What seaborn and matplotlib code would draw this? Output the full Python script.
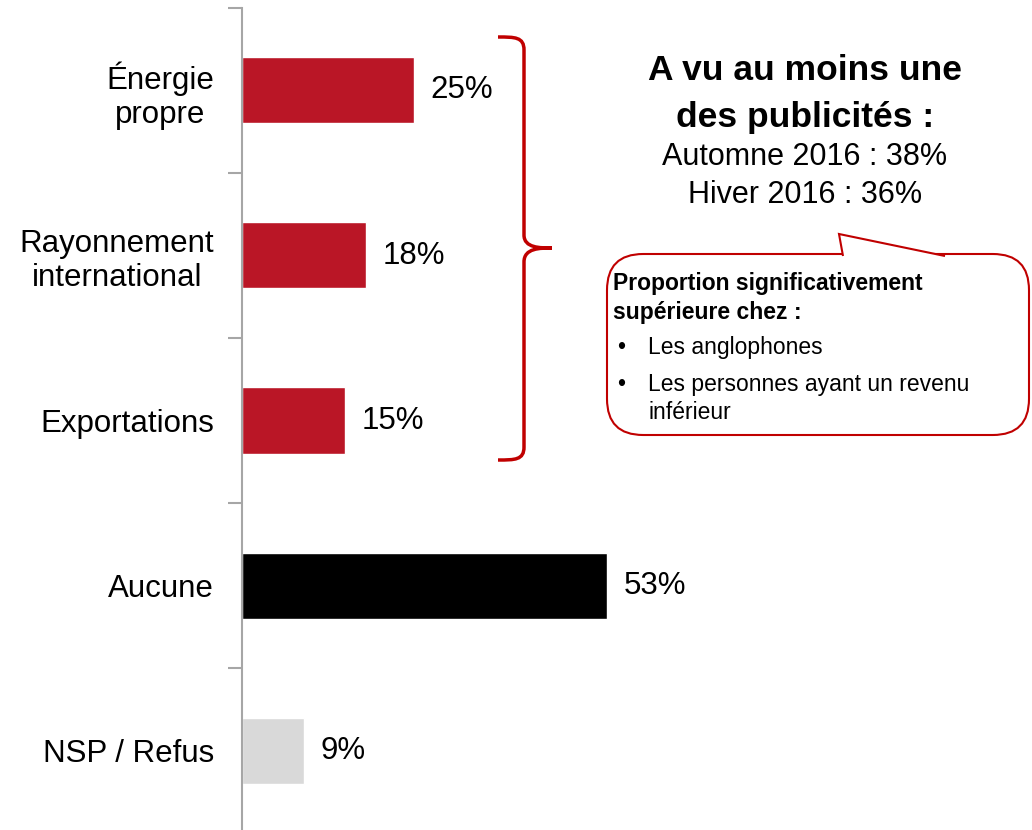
import numpy as np
import pandas as pd
import matplotlib
matplotlib.use("Agg")
import matplotlib.pyplot as plt
import seaborn as sns
from matplotlib.patches import FancyBboxPatch, Polygon, PathPatch
from matplotlib.path import Path

# Donnees du graphique
categories = ["Énergie\npropre", "Rayonnement\ninternational", "Exportations",
              "Aucune", "NSP / Refus"]
valeurs = [25, 18, 15, 53, 9]
couleurs = ["#BA1626", "#BA1626", "#BA1626", "#000000", "#D9D9D9"]

titre = ["A vu au moins une", "des publicités :"]
periodes = ["Automne 2016 : 38%", "Hiver 2016 : 36%"]
encadre_titre = "Proportion significativement\nsupérieure chez :"
encadre_points = ["Les anglophones", "Les personnes ayant un revenu\ninférieur"]

df = pd.DataFrame({"categorie": categories, "valeur": valeurs})

sns.set_style("white")
plt.rcParams["font.family"] = ["Liberation Sans", "DejaVu Sans"]
plt.rcParams["text.color"] = "black"
plt.rcParams["ytick.labelcolor"] = "black"

W, H = 1032, 830
fig = plt.figure(figsize=(W / 100, H / 100), dpi=100)
# axe : spine a x=242 px, categories de y=8 a 833 px
ax = fig.add_axes([242 / W, (H - 833) / H, 1 - 242 / W, 825 / H])

sns.barplot(data=df, x="valeur", y="categorie", hue="categorie",
            palette=couleurs, width=0.4, orient="h", legend=False,
            saturation=1, ax=ax)

ax.set_xlim(0, (W - 242) / 6.89)
ax.set_ylim(4.5, -0.5)
ax.set_xlabel("")
ax.set_ylabel("")
ax.set_xticks([])

for s in ["top", "right", "bottom"]:
    ax.spines[s].set_visible(False)
ax.spines["left"].set_color("#A6A6A6")
ax.spines["left"].set_linewidth(1.5)

# graduations aux limites des categories
ax.set_yticks(np.arange(len(categories)))
ax.set_yticks(np.arange(len(categories) + 1) - 0.5, minor=True)
ax.tick_params(axis="y", which="major", length=0, pad=20, labelsize=22.5,
               labelcolor="black")
ax.tick_params(axis="y", which="minor", length=10, width=1.5,
               color="#A6A6A6", direction="out", left=True)
for lab in ax.get_yticklabels():
    lab.set_multialignment("center")
    lab.set_linespacing(1.17)

for i, v in enumerate(valeurs):
    ax.text(v + 2.4, i, f"{v}%", va="center", ha="left", fontsize=22.5)

def fx(x):
    return x / W

def fy(y):
    return 1 - y / H

# accolade rouge
rouge = "#C00000"
pts = [(498, 37), (515, 37), (524, 37), (524, 50),
       (524, 235),
       (524, 248), (540, 248), (552, 248),
       (540, 248), (524, 248), (524, 262),
       (524, 447),
       (524, 460), (515, 460), (498, 460)]
codes = [Path.MOVETO, Path.CURVE4, Path.CURVE4, Path.CURVE4,
         Path.LINETO,
         Path.CURVE4, Path.CURVE4, Path.CURVE4,
         Path.CURVE4, Path.CURVE4, Path.CURVE4,
         Path.LINETO,
         Path.CURVE4, Path.CURVE4, Path.CURVE4]
brace = Path([(fx(x), fy(y)) for x, y in pts], codes)
fig.add_artist(PathPatch(brace, transform=fig.transFigure, fill=False,
                         edgecolor=rouge, linewidth=2.5))

# texte de droite
fig.text(fx(805), fy(70), titre[0], ha="center", va="center",
         fontsize=25.5, fontweight="bold")
fig.text(fx(805), fy(117), titre[1], ha="center", va="center",
         fontsize=25.5, fontweight="bold")
fig.text(fx(805), fy(157), periodes[0], ha="center", va="center", fontsize=22)
fig.text(fx(805), fy(195), periodes[1], ha="center", va="center", fontsize=22)

# bulle
box = FancyBboxPatch((fx(607), fy(435)), fx(1029 - 607), (435 - 254) / H,
                     boxstyle="round,pad=0,rounding_size=0.035",
                     transform=fig.transFigure, facecolor="white",
                     edgecolor=rouge, linewidth=1.5, mutation_aspect=W / H)
fig.add_artist(box)
pointe = Polygon([(fx(843), fy(256)), (fx(839), fy(234)), (fx(945), fy(256))],
                 closed=False, transform=fig.transFigure, facecolor="white",
                 edgecolor=rouge, linewidth=1.5)
fig.add_artist(pointe)

fig.text(fx(613), fy(298), encadre_titre, ha="left", va="center",
         fontsize=16.5, fontweight="bold", linespacing=1.3)
fig.text(fx(617), fy(347), "•", ha="left", va="center", fontsize=16.5)
fig.text(fx(648), fy(347), encadre_points[0], ha="left", va="center", fontsize=16.5)
fig.text(fx(617), fy(384), "•", ha="left", va="center", fontsize=16.5)
fig.text(fx(648), fy(373), encadre_points[1], ha="left", va="top",
         fontsize=16.5, linespacing=1.25)

fig.savefig("out.png", dpi=100)
